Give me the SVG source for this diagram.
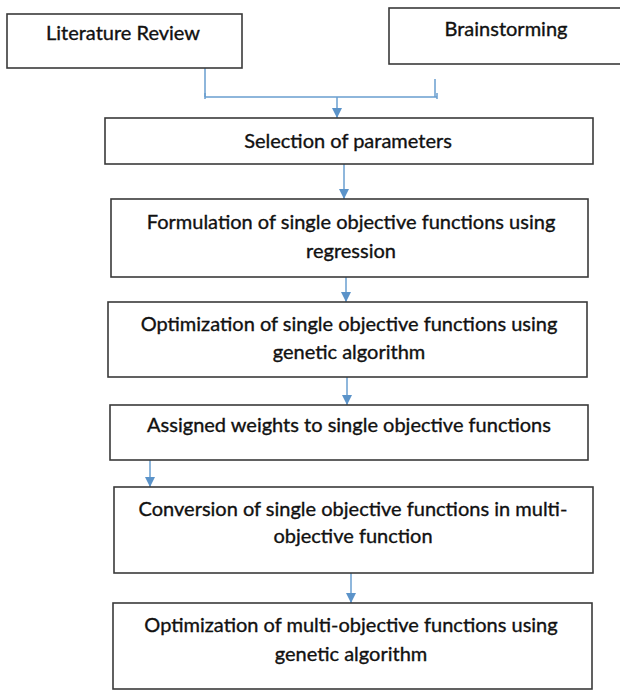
<svg xmlns="http://www.w3.org/2000/svg" width="620" height="692" viewBox="0 0 620 692">
<style>
.box{fill:#fff;stroke:#3a3a3a;stroke-width:1.6}
.t{font-family:Lato,"Liberation Sans",sans-serif;font-size:20px;fill:#111;stroke:#111;stroke-width:0.35;text-anchor:middle}
.c{fill:none;stroke:#6a9fd0;stroke-width:1.5}
.a{fill:#5b93c9}
</style>
<rect width="620" height="692" fill="#fff"/>
<g id="connectors">
<path class="c" d="M205,68 V97 M435,79 V97 M205,97 H437"/>
<path class="c" d="M205,93 V99 M437,93 V99"/>
<line class="c" x1="337" y1="97" x2="337" y2="118"/>
<path class="a" d="M332,108 L342,108 L337,118 Z"/>
<line class="c" x1="344" y1="164" x2="344" y2="199"/>
<path class="a" d="M339,189 L349,189 L344,199 Z"/>
<line class="c" x1="346" y1="272" x2="346" y2="302"/>
<path class="a" d="M341,292 L351,292 L346,302 Z"/>
<line class="c" x1="347" y1="377" x2="347" y2="405"/>
<path class="a" d="M342,395 L352,395 L347,405 Z"/>
<line class="c" x1="150" y1="453" x2="150" y2="487"/>
<path class="a" d="M145,477 L155,477 L150,487 Z"/>
<line class="c" x1="351" y1="570" x2="351" y2="603"/>
<path class="a" d="M346,593 L356,593 L351,603 Z"/>
</g>
<g id="literature">
<rect class="box" x="7" y="14" width="235" height="54"/>
<text class="t" x="123" y="40">Literature Review</text>
</g>
<g id="brainstorming">
<rect class="box" x="389" y="8" width="240" height="56"/>
<text class="t" x="506" y="36">Brainstorming</text>
</g>
<g id="selection">
<rect class="box" x="105" y="118" width="488" height="46"/>
<text class="t" x="348" y="148">Selection of parameters</text>
</g>
<g id="formulation">
<rect class="box" x="111" y="199" width="477" height="78"/>
<text class="t" x="351" y="229">Formulation of single objective  functions using</text>
<text class="t" x="351" y="258">regression</text>
</g>
<g id="optimization-single">
<rect class="box" x="108" y="302" width="479" height="75"/>
<text class="t" x="349" y="331">Optimization of single objective  functions using</text>
<text class="t" x="349" y="359">genetic algorithm</text>
</g>
<g id="assigned">
<rect class="box" x="110" y="405" width="478" height="55"/>
<text class="t" x="349" y="432">Assigned weights to single objective functions</text>
</g>
<g id="conversion">
<rect class="box" x="114" y="487" width="479" height="86"/>
<text class="t" x="353" y="516">Conversion of single objective  functions in multi-</text>
<text class="t" x="353" y="543">objective function</text>
</g>
<g id="optimization-multi">
<rect class="box" x="113" y="603" width="479" height="86"/>
<text class="t" x="351" y="632">Optimization of multi-objective  functions using</text>
<text class="t" x="351" y="661">genetic algorithm</text>
</g>
</svg>
